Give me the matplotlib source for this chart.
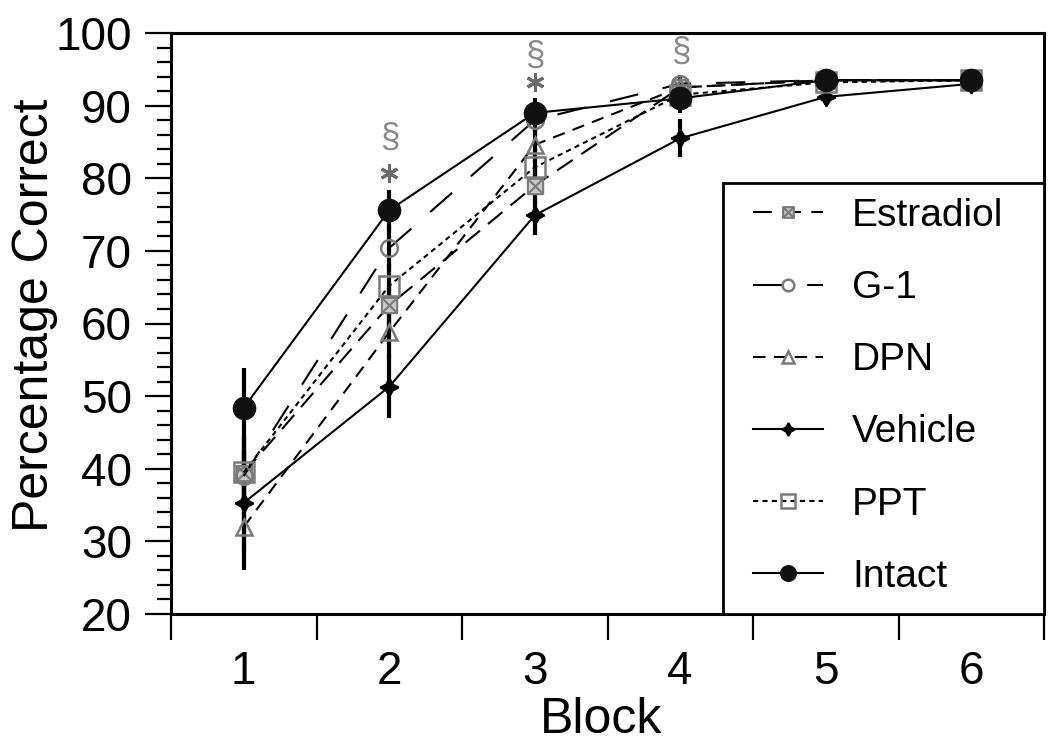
import matplotlib
matplotlib.use('Agg')
import matplotlib.pyplot as plt
from matplotlib.path import Path
from matplotlib.patches import Rectangle
from matplotlib.ticker import FixedLocator, NullFormatter, MultipleLocator

# ---------------- data ----------------
blocks = [1, 2, 3, 4, 5, 6]
block_labels = ['1', '2', '3', '4', '5', '6']
series_names = ['Estradiol', 'G-1', 'DPN', 'Vehicle', 'PPT', 'Intact']

estradiol = [39.4, 62.5, 79.0, 92.5, 93.5, 93.5]
g1 = [39.0, 70.4, 88.0, 93.0, 93.5, 93.5]
dpn = [32.0, 58.8, 84.6, 92.5, 93.5, 93.5]
vehicle = [35.3, 51.3, 74.9, 85.5, 91.2, 93.0]
ppt = [39.5, 65.2, 81.5, 91.5, 93.2, 93.5]
intact = [48.4, 75.6, 89.0, 91.0, 93.5, 93.5]

estradiol_err = [3.5, 3.0, 2.5, 1.2, 0.8, 0.8]
g1_err = [3.5, 3.0, 2.0, 1.2, 0.8, 0.8]
dpn_err = [3.5, 3.5, 2.5, 1.2, 0.8, 0.8]
vehicle_err = [9.2, 4.3, 2.7, 2.6, 1.0, 0.8]
ppt_err = [3.5, 3.0, 2.5, 1.2, 0.8, 0.8]
intact_err = [5.5, 2.8, 2.0, 2.0, 0.8, 0.8]

# significance marks
star_blocks = [2, 3]
star_y = [80.7, 93.3]
section_blocks = [2, 3, 4]
section_y = [85.5, 96.8, 97.3]

# ---------------- style ----------------
plt.rcParams['font.family'] = ['Liberation Sans', 'DejaVu Sans']

boxx = Path([(-1, -1), (1, -1), (1, 1), (-1, 1), (-1, -1),
             (-1, -1), (1, 1), (-1, 1), (1, -1)],
            [Path.MOVETO, Path.LINETO, Path.LINETO, Path.LINETO, Path.CLOSEPOLY,
             Path.MOVETO, Path.LINETO, Path.MOVETO, Path.LINETO])

gray = '#7a7a7a'
styles = {
    'Estradiol': dict(marker=boxx, ms=11, mfc='#c8c8c8', mec=gray, mew=1.5,
                      dashes=(9, 5)),
    'G-1': dict(marker='o', ms=12, mfc='none', mec=gray, mew=1.8,
                dashes=(14, 12)),
    'DPN': dict(marker='^', ms=12, mfc='none', mec=gray, mew=1.8,
                dashes=(6, 4)),
    'Vehicle': dict(marker=(4, 1, 0), ms=13, mfc='black', mec='black', mew=1.5,
                    linestyle='-'),
    'PPT': dict(marker='s', ms=15, mfc='none', mec=gray, mew=1.8,
                dashes=(2.5, 2)),
    'Intact': dict(marker='o', ms=16, mfc='#111111', mec='#111111', mew=1,
                   linestyle='-'),
}
values = {'Estradiol': estradiol, 'G-1': g1, 'DPN': dpn, 'Vehicle': vehicle,
          'PPT': ppt, 'Intact': intact}
errors = {'Estradiol': estradiol_err, 'G-1': g1_err, 'DPN': dpn_err,
          'Vehicle': vehicle_err, 'PPT': ppt_err, 'Intact': intact_err}

W, H = 1050, 746
fig = plt.figure(figsize=(W / 100, H / 100), dpi=100)
ax_l, ax_r, ax_t, ax_b = 171, 1044, 33, 614
ax = fig.add_axes([ax_l / W, 1 - ax_b / H, (ax_r - ax_l) / W, (ax_b - ax_t) / H])

handles = []
for name in series_names:
    st = dict(styles[name])
    z = 6 if name == 'Intact' else 4
    ln, = ax.plot(blocks, values[name], color='black', lw=1.5, label=name,
                  zorder=z, **st)
    handles.append(ln)
    ax.errorbar(blocks, values[name], yerr=errors[name], fmt='none',
                ecolor='black', elinewidth=3, capsize=0, zorder=3)

for b, y in zip(star_blocks, star_y):
    ax.plot(b, y, marker=(6, 2, 0), ms=13, mec='#6a6a6a', mew=2.2,
            linestyle='none', zorder=7)
for b, y in zip(section_blocks, section_y):
    ax.text(b, y, '\u00a7', ha='center', va='center', fontsize=25,
            color='#8a8a8a', zorder=7)

ax.set_xlim(0.5, 6.5)
ax.set_ylim(20, 100)

ax.xaxis.set_major_locator(FixedLocator([0.5, 1.5, 2.5, 3.5, 4.5, 5.5, 6.5]))
ax.xaxis.set_major_formatter(NullFormatter())
ax.xaxis.set_minor_locator(FixedLocator(blocks))
ax.set_xticklabels(block_labels, minor=True)
ax.tick_params(axis='x', which='major', direction='out', length=19, width=1.6)
ax.tick_params(axis='x', which='minor', length=0, pad=26, labelsize=33)

ax.yaxis.set_major_locator(MultipleLocator(10))
ax.yaxis.set_minor_locator(MultipleLocator(2))
ax.tick_params(axis='y', which='major', direction='out', length=19, width=1.6,
               pad=9, labelsize=33)
ax.tick_params(axis='y', which='minor', direction='out', length=10, width=1.6)

for sp in ax.spines.values():
    sp.set_linewidth(2.2)

fig.text(35 / W, 1 - 315 / H, 'Percentage Correct', rotation=90,
         ha='center', va='center', fontsize=36)
fig.text(601 / W, 1 - 720 / H, 'Block', ha='center', va='center',
         fontsize=36)

# legend frame drawn separately for exact placement
lx0, lx1, ly0, ly1 = 723, ax_r, 183, ax_b
frame = Rectangle(((lx0 - ax_l) / (ax_r - ax_l), 0),
                  (lx1 - lx0) / (ax_r - ax_l), (ly1 - ly0) / (ax_b - ax_t),
                  transform=ax.transAxes, facecolor='white', edgecolor='black',
                  lw=2, zorder=9, clip_on=False)
ax.add_patch(frame)

leg = ax.legend(handles=handles, loc='upper left',
                bbox_to_anchor=(753 / W, 1 - 198 / H),
                bbox_transform=fig.transFigure,
                borderaxespad=0, borderpad=0, fontsize=28, markerscale=0.7,
                handlelength=1.8, handletextpad=0.75, labelspacing=0.93,
                frameon=False)
leg.set_zorder(10)

fig.savefig('out.png', dpi=100)
